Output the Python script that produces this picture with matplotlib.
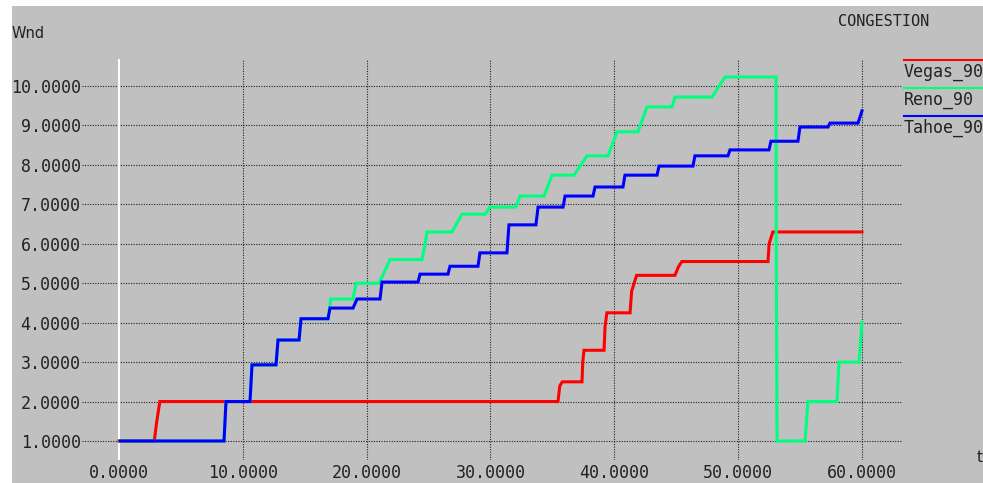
import matplotlib.pyplot as plt
from matplotlib.patches import Rectangle

# congestion window traces (time [s], window) - vertices of the step curves
vegas_t = [0, 2.85, 3.05, 3.30, 35.45, 35.60, 35.80, 37.39, 37.45, 37.55, 39.17, 39.25,
           39.40, 41.27, 41.40, 41.80, 44.90, 45.15, 45.45, 52.41, 52.50, 52.80, 60.0]
vegas_w = [1, 1, 1.5, 2, 2, 2.4, 2.5, 2.5, 3.0, 3.3, 3.3, 3.9,
           4.25, 4.25, 4.8, 5.2, 5.2, 5.4, 5.55, 5.55, 6.0, 6.3, 6.3]

reno_t = [0.1, 8.48, 8.64, 10.58, 10.74, 12.68, 12.84, 14.54, 14.70, 16.88, 17.10,
          18.90, 19.14, 21.00, 21.45, 21.88, 24.47, 24.70, 24.87, 26.89, 27.70,
          29.56, 29.96, 32.06, 32.38, 34.32, 34.97, 36.74, 37.79, 39.49, 40.22,
          41.91, 42.64, 44.66, 44.90, 47.89, 48.94, 53.06, 53.08, 53.14,
          55.40, 55.64, 57.98, 58.15, 59.76, 60.0]
reno_w = [1, 1, 2, 2, 2.93, 2.93, 3.56, 3.56, 4.1, 4.1, 4.6,
          4.6, 5.0, 5.0, 5.3, 5.6, 5.6, 5.95, 6.3, 6.3, 6.75,
          6.75, 6.93, 6.93, 7.21, 7.21, 7.74, 7.74, 8.23, 8.23, 8.84,
          8.84, 9.47, 9.47, 9.72, 9.72, 10.23, 10.23, 5.6, 1,
          1, 2, 2, 3, 3, 4]

tahoe_t = [0.1, 8.48, 8.64, 10.58, 10.74, 12.68, 12.84, 14.54, 14.70, 16.88, 17.04,
           18.90, 19.22, 21.08, 21.24, 24.15, 24.31, 26.57, 26.73, 28.99, 29.15,
           31.33, 31.49, 33.67, 33.84, 35.86, 36.02, 38.28, 38.44, 40.70, 40.86,
           43.45, 43.61, 46.35, 46.51, 49.18, 49.34, 52.49, 52.65, 54.83, 54.99,
           57.26, 57.42, 59.68, 60.0]
tahoe_w = [1, 1, 2, 2, 2.93, 2.93, 3.56, 3.56, 4.1, 4.1, 4.37,
           4.37, 4.6, 4.6, 5.03, 5.03, 5.23, 5.23, 5.43, 5.43, 5.77,
           5.77, 6.48, 6.48, 6.93, 6.93, 7.21, 7.21, 7.44, 7.44, 7.74,
           7.74, 7.97, 7.97, 8.23, 8.23, 8.38, 8.38, 8.6, 8.6, 8.96,
           8.96, 9.06, 9.06, 9.37]

series_names = ["Vegas_90", "Reno_90", "Tahoe_90"]
series_colors = ["#ff0000", "#00ff7f", "#0000ff"]
x_ticks = [0, 10, 20, 30, 40, 50, 60]
y_ticks = [1, 2, 3, 4, 5, 6, 7, 8, 9, 10]

W, H = 983, 483
fig = plt.figure(figsize=(W / 100, H / 100), dpi=100, facecolor="white")
# gray canvas with thin white margin on top/left
bg = Rectangle((12 / W, 0), 1, 1 - 6 / H, transform=fig.transFigure,
               facecolor="#c0c0c0", edgecolor="none", zorder=-10)
fig.add_artist(bg)

ax = fig.add_axes([82 / W, 1 - 460 / H, 820 / W, 401 / H])
ax.set_facecolor("none")
for s in ax.spines.values():
    s.set_visible(False)

ax.set_xlim(-2.988, 63.232)
ax.set_ylim(0.518, 10.685)

# dotted grid
for yv in y_ticks:
    ax.axhline(yv, color="#222222", lw=0.8, ls=(0, (1, 1.3)), zorder=1)
for xv in x_ticks[1:]:
    ax.axvline(xv, color="#222222", lw=0.8, ls=(0, (1, 1.3)), zorder=1)
ax.axvline(0, color="white", lw=1.4, zorder=1)

mono = "DejaVu Sans Mono"
ax.set_xticks(x_ticks)
ax.set_yticks(y_ticks)
ax.set_xticklabels(["%.4f" % v for v in x_ticks], family=mono, fontsize=12, color="#222222")
ax.set_yticklabels(["%.4f" % v for v in y_ticks], family=mono, fontsize=12, color="#222222")
ax.tick_params(length=0, pad=1)
ax.tick_params(axis="x", pad=3)

data = [(vegas_t, vegas_w), (reno_t, reno_w), (tahoe_t, tahoe_w)]
for (t, w), c in zip(data, series_colors):
    ax.plot(t, w, color=c, lw=2.2, solid_joinstyle="miter", zorder=3)

# labels and legend
fig.text(12 / W, 1 - 34 / H, "Wnd", family="DejaVu Sans", fontsize=10.5,
         color="#222222", va="center", ha="left")
fig.text(977 / W, 1 - 458 / H, "t", family="DejaVu Sans", fontsize=11,
         color="#222222", va="center", ha="left")
fig.text(838 / W, 1 - 21 / H, "CONGESTION", family=mono, fontsize=11,
         color="#222222", va="center", ha="left")

for i, (name, c) in enumerate(zip(series_names, series_colors)):
    ly = 60 + 28 * i
    fig.add_artist(plt.Line2D([904 / W, 1], [1 - ly / H, 1 - ly / H], color=c, lw=1.5,
                              transform=fig.transFigure))
    fig.text(904 / W, 1 - (ly + 12) / H, name, family=mono, fontsize=12,
             color="#222222", va="center", ha="left")

fig.savefig("out.png", dpi=100, facecolor=fig.get_facecolor())
